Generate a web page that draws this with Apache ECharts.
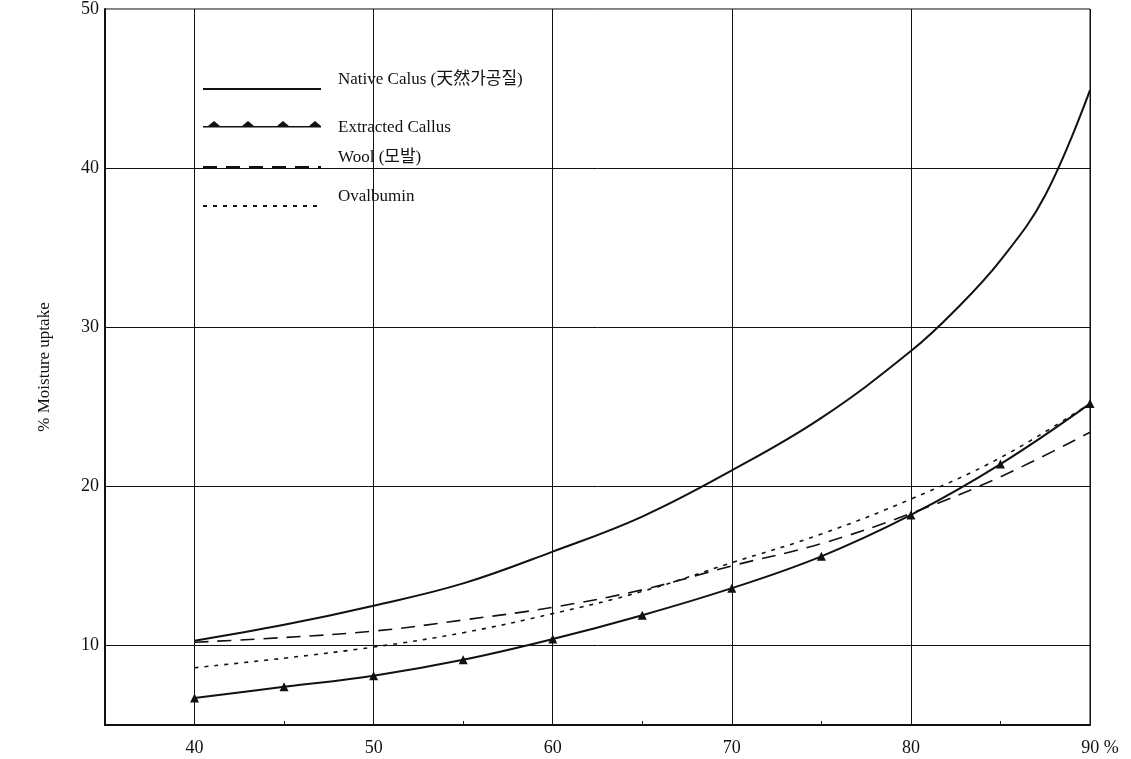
<!DOCTYPE html>
<html>
<head>
<meta charset="utf-8">
<script src="https://cdn.jsdelivr.net/npm/echarts@6/dist/echarts.min.js"></script>
<style>
  html, body { margin: 0; padding: 0; background: #fff; }
  #main { width: 1131px; height: 759px; }
</style>
</head>
<body>
<div id="main"></div>
<script>
// relative humidity (%) on x, moisture uptake (%) on y
var humidity = [40, 45, 50, 55, 60, 65, 70, 75, 80, 85, 90];
var nativeHumidity = [40, 45, 50, 55, 60, 65, 70, 75, 80, 82.5, 85, 87.5, 90];
var nativeCalus = [10.3, 11.3, 12.5, 13.9, 15.9, 18.1, 21.0, 24.3, 28.5, 31.1, 34.2, 38.3, 44.9];
var extractedCallus = [6.7, 7.4, 8.1, 9.1, 10.4, 11.9, 13.6, 15.6, 18.2, 21.4, 25.2];
var wool = [10.2, 10.5, 10.9, 11.6, 12.4, 13.5, 15.0, 16.4, 18.3, 20.6, 23.4];
var ovalbumin = [8.6, 9.2, 9.9, 10.8, 12.0, 13.4, 15.2, 17.0, 19.2, 21.8, 25.2];
var xGrid = [40, 50, 60, 70, 80, 90];
var yGrid = [10, 20, 30, 40];
var names = ['Native Calus (天然가공질)', 'Extracted Callus', 'Wool (모발)', 'Ovalbumin'];

var font = "'Liberation Serif', 'DejaVu Serif', 'Noto Sans CJK KR', serif";
var ink = '#111';

function pairs(xs, ys) {
  return xs.map(function (x, i) { return [x, ys[i]]; });
}

// legend icon: a line with four small triangles on it (kept in the top part of the icon box)
var triIcon = 'path://M0,5L118,5L118,6.5L0,6.5Z ' +
  'M5,5L11,0L17,5Z M39,5L45,0L51,5Z M74,5L80,0L86,5Z M106,5L112,0L118,5Z M0,14L0.1,14L0,13.9Z';
var noSymbol = { opacity: 0 };

var chart = echarts.init(document.getElementById('main'));
var option = {
  animation: false,
  backgroundColor: '#fff',
  textStyle: { fontFamily: font, color: ink },
  grid: {
    left: 105, right: 41, top: 5, bottom: 34,
    show: true, borderColor: ink, borderWidth: 1
  },
  legend: {
    orient: 'vertical',
    left: 197, top: 65,
    itemWidth: 118, itemHeight: 14, itemGap: 1,
    // trailing blank line lifts the label above its sample line, as in the original
    formatter: function (name) { return name === names[1] ? name : name + '\n '; },
    textStyle: { fontFamily: font, fontSize: 17, lineHeight: 19, color: ink, padding: [0, 0, 0, 12] },
    data: [
      { name: names[0], itemStyle: noSymbol },
      { name: names[1], icon: triIcon, textStyle: { padding: [4, 0, 15, 12] } },
      { name: names[2], itemStyle: noSymbol },
      { name: names[3], itemStyle: noSymbol }
    ]
  },
  xAxis: {
    type: 'value',
    min: 35, max: 90, interval: 5,
    axisLine: { show: true, lineStyle: { color: ink, width: 2 } },
    axisTick: { show: true, inside: true, length: 4, lineStyle: { color: ink } },
    splitLine: { show: false },
    axisLabel: {
      margin: 14, fontSize: 18, fontFamily: font, color: ink,
      formatter: function (v) {
        if (v % 10 !== 0) return '';
        return v === 90 ? '{p|90 %}' : String(v);
      },
      rich: { p: { fontSize: 18, fontFamily: font, color: ink, padding: [0, 0, 0, 20] } }
    }
  },
  yAxis: {
    type: 'value',
    min: 5, max: 50, interval: 5,
    name: '% Moisture uptake',
    nameLocation: 'middle', nameRotate: 90, nameGap: 52,
    nameTextStyle: { fontFamily: font, fontSize: 17, color: ink },
    axisLine: { show: true, lineStyle: { color: ink, width: 2 } },
    axisTick: { show: false },
    splitLine: { show: false },
    axisLabel: {
      margin: 6, fontSize: 18, fontFamily: font, color: ink,
      formatter: function (v) { return v % 10 === 0 ? String(v) : ''; }
    }
  },
  series: [
    {
      name: names[0], type: 'line', smooth: 0.4,
      data: pairs(nativeHumidity, nativeCalus),
      symbol: 'none',
      itemStyle: { color: ink },
      lineStyle: { color: ink, width: 2 },
      markLine: {
        silent: true, symbol: ['none', 'none'], label: { show: false },
        lineStyle: { color: ink, width: 1, type: 'solid' },
        data: xGrid.map(function (v) { return { xAxis: v }; })
          .concat(yGrid.map(function (v) { return { yAxis: v }; }))
      }
    },
    {
      name: names[1], type: 'line', smooth: 0.4,
      data: pairs(humidity, extractedCallus),
      symbol: 'triangle', symbolSize: 9,
      itemStyle: { color: ink },
      lineStyle: { color: ink, width: 2 }
    },
    {
      name: names[2], type: 'line', smooth: 0.4,
      data: pairs(humidity, wool),
      symbol: 'none',
      itemStyle: { color: ink },
      lineStyle: { color: ink, width: 1.6, type: [14, 9] }
    },
    {
      name: names[3], type: 'line', smooth: 0.4,
      data: pairs(humidity, ovalbumin),
      symbol: 'none',
      itemStyle: { color: ink },
      lineStyle: { color: ink, width: 1.6, type: [4, 6] }
    }
  ]
};
chart.setOption(option);
</script>
</body>
</html>
